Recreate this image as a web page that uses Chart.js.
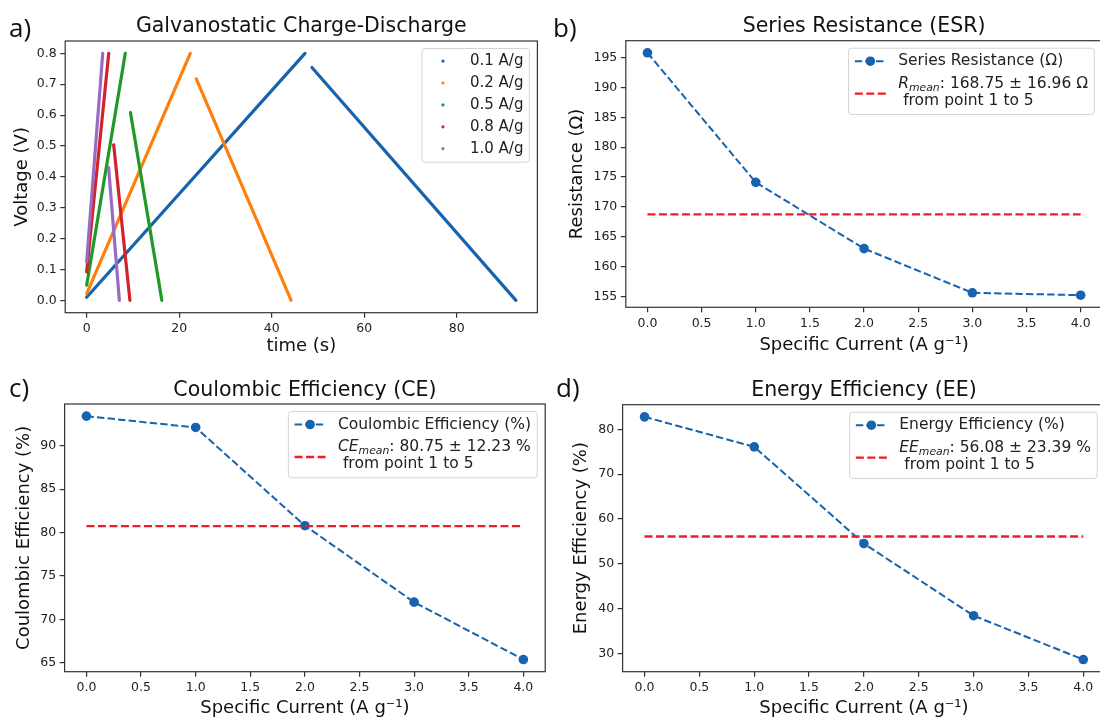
<!DOCTYPE html>
<html>
<head>
<meta charset="utf-8">
<script src="https://cdn.jsdelivr.net/npm/chart.js@4.4.0/dist/chart.umd.min.js"></script>
<style>
  html, body { margin: 0; padding: 0; background: #fff; overflow: hidden; width: 1100px; height: 719px; }
  canvas { position: absolute; }
  .tag { position: absolute; font-family: "Open Sans", sans-serif; font-size: 26px; line-height: 1; color: #111; }
</style>
</head>
<body>
<canvas id="gcd" style="left:0;top:0" width="550" height="360"></canvas>
<canvas id="esr" style="left:550px;top:0" width="560" height="360"></canvas>
<canvas id="ce" style="left:0;top:360px" width="550" height="359"></canvas>
<canvas id="ee" style="left:550px;top:360px" width="560" height="359"></canvas>
<div class="tag" style="left:9px;top:14px">a)</div>
<div class="tag" style="left:553px;top:14px">b)</div>
<div class="tag" style="left:9px;top:374px">c)</div>
<div class="tag" style="left:556px;top:374px">d)</div>
<script>
// a) galvanostatic charge-discharge: one charge and one discharge segment per current
const rateLabels = ['0.1 A/g', '0.2 A/g', '0.5 A/g', '0.8 A/g', '1.0 A/g'];
const chargeStartV = [0.010, 0.022, 0.049, 0.092, 0.125];
const chargeEndT = [47.2, 22.4, 8.35, 4.77, 3.47];
const peakV = 0.8;
const dischargeStartT = [48.7, 23.7, 9.47, 5.84, 4.74];
const dischargeStartV = [0.754, 0.717, 0.608, 0.504, 0.430];
const dischargeEndT = [92.8, 44.2, 16.25, 9.35, 7.07];
const timeTicks = [0, 20, 40, 60, 80];
const voltageTicks = [0, 0.1, 0.2, 0.3, 0.4, 0.5, 0.6, 0.7, 0.8];

// b), c), d) vs specific current
const currents = [0, 1, 2, 3, 4];
const currentTicks = [0, 0.5, 1, 1.5, 2, 2.5, 3, 3.5, 4];
const esr = [195.8, 174.1, 163.0, 155.6, 155.2];
const esrMean = 168.75, esrStd = 16.96;
const esrTicks = [155, 160, 165, 170, 175, 180, 185, 190, 195];
const ce = [93.4, 92.1, 80.8, 72.0, 65.4];
const ceMean = 80.75, ceStd = 12.23;
const ceTicks = [65, 70, 75, 80, 85, 90];
const ee = [82.8, 76.1, 54.5, 38.4, 28.6];
const eeMean = 56.08, eeStd = 23.39;
const eeTicks = [30, 40, 50, 60, 70, 80];

const FONT = '"DejaVu Sans", sans-serif';
const BLUE = '#1763ad';
const RED = '#ee1d23';
const rateColors = [BLUE, '#ff7f0e', '#209a26', '#d2232a', '#9a6ac4'];

// matplotlib autoscale: 5% margin on each side
function lim(values) {
  const lo = Math.min(...values), hi = Math.max(...values);
  const m = (hi - lo) * 0.05;
  return [lo - m, hi + m];
}

function runFont(r, fs) {
  return (r.it ? 'italic ' : '') + (r.sub ? fs * 0.7 : fs) + 'px ' + FONT;
}

function lineWidth(ctx, runs, fs) {
  let w = 0;
  runs.forEach(r => { ctx.font = runFont(r, fs); w += ctx.measureText(r.t).width; });
  return w;
}

// full frame around the axes (spines)
const frame = {
  id: 'frame',
  afterDatasetsDraw(chart) {
    const { ctx, chartArea: a } = chart;
    ctx.save();
    ctx.strokeStyle = '#333';
    ctx.lineWidth = 1.2;
    ctx.strokeRect(a.left, a.top, a.right - a.left, a.bottom - a.top);
    ctx.restore();
  }
};

// legend box in the upper right corner, matplotlib style
const boxLegend = {
  id: 'boxLegend',
  afterDraw(chart, args, o) {
    if (!o.items) return;
    const { ctx, chartArea: ca } = chart;
    const fs = o.fontSize;
    const pad = 0.4 * fs, hl = 2 * fs, hp = 0.8 * fs;
    ctx.save();
    let tw = 0;
    o.items.forEach(it => it.lines.forEach(l => { tw = Math.max(tw, lineWidth(ctx, l, fs)); }));
    const w = pad + hl + hp + tw + pad;
    const top = ca.top + 7.5;
    const left = ca.right - 8 - w;
    let y = top + 0.84 * fs;
    const rows = o.items.map(it => {
      const ys = it.lines.map((l, i) => y + i * 1.08 * fs);
      y = ys[ys.length - 1] + 1.46 * fs;
      return ys;
    });
    const lastRow = rows[rows.length - 1];
    const bottom = lastRow[lastRow.length - 1] + 0.9 * fs;

    ctx.beginPath();
    ctx.roundRect(left, top, w, bottom - top, 3);
    ctx.fillStyle = 'rgba(255,255,255,0.85)';
    ctx.fill();
    ctx.strokeStyle = '#d4d4d4';
    ctx.lineWidth = 1;
    ctx.stroke();

    o.items.forEach((it, k) => {
      const ys = rows[k];
      const hy = (ys[0] + ys[ys.length - 1]) / 2 + (ys.length > 1 ? 1.5 : 0);
      const hx = left + pad;
      ctx.fillStyle = it.color;
      ctx.strokeStyle = it.color;
      if (it.handle === 'dot') {
        ctx.beginPath();
        ctx.arc(hx + hl / 2, hy, 1.6, 0, Math.PI * 2);
        ctx.fill();
      } else {
        ctx.lineWidth = it.handle === 'dash' ? 2.3 : 2;
        ctx.setLineDash(it.handle === 'dash' ? [8, 3.5] : [7.4, 3.2]);
        ctx.beginPath();
        ctx.moveTo(hx, hy);
        ctx.lineTo(hx + hl, hy);
        ctx.stroke();
        ctx.setLineDash([]);
        if (it.handle === 'lineMarker') {
          ctx.beginPath();
          ctx.arc(hx + hl / 2, hy, 4.8, 0, Math.PI * 2);
          ctx.fill();
        }
      }
      ctx.textBaseline = 'middle';
      ctx.textAlign = 'left';
      ctx.fillStyle = '#222';
      it.lines.forEach((l, i) => {
        let x = hx + hl + hp;
        l.forEach(r => {
          ctx.font = runFont(r, fs);
          ctx.fillText(r.t, x, ys[i] + (r.sub ? 0.28 * fs : 0));
          x += ctx.measureText(r.t).width;
        });
      });
    });
    ctx.restore();
  }
};

Chart.register(frame, boxLegend);

function scaleCfg(o) {
  return {
    type: 'linear',
    min: o.range[0],
    max: o.range[1],
    afterBuildTicks: s => { s.ticks = o.ticks.map(v => ({ value: v })); },
    afterFit: s => { if (o.axis === 'x') s.height = o.size; else s.width = o.size; },
    grid: { display: true, drawOnChartArea: false, drawTicks: true, tickLength: 5, color: '#333', lineWidth: 1.2 },
    border: { display: false },
    ticks: { padding: 3.5, color: '#222', autoSkip: false, maxRotation: 0, font: { family: FONT, size: 12.5 }, callback: o.fmt },
    title: {
      display: true, text: o.title, color: '#111',
      font: { family: FONT, size: 18 },
      padding: o.axis === 'x' ? { top: 0, bottom: o.tpad } : { top: o.tpad, bottom: 0 }
    }
  };
}

function panel(id, p) {
  new Chart(document.getElementById(id), {
    type: 'line',
    data: { datasets: p.datasets },
    options: {
      responsive: false,
      animation: false,
      devicePixelRatio: 1,
      layout: { padding: { left: 0, top: 0, bottom: 0, right: p.right } },
      scales: { x: scaleCfg(p.x), y: scaleCfg(p.y) },
      plugins: {
        legend: { display: false },
        tooltip: { enabled: false },
        title: {
          display: true, text: p.title, fullSize: false, color: '#111',
          font: { family: FONT, size: 20.5, weight: 'normal' },
          padding: p.titlePad
        },
        boxLegend: p.legend
      }
    }
  });
}

function currentSeries(values, mean) {
  return [
    {
      data: currents.map((x, i) => ({ x, y: values[i] })),
      borderColor: BLUE, borderWidth: 2, borderDash: [7.4, 3.2],
      pointRadius: 4.8, pointBackgroundColor: BLUE, pointBorderWidth: 0, order: 1
    },
    {
      data: [{ x: currents[0], y: mean }, { x: currents[currents.length - 1], y: mean }],
      borderColor: RED, borderWidth: 2.3, borderDash: [8, 3.5], pointRadius: 0, order: 0
    }
  ];
}

function meanLabel(sym, mean, std, unit) {
  return [
    [{ t: sym, it: true }, { t: 'mean', it: true, sub: true }, { t: ': ' + mean.toFixed(2) + ' ± ' + std.toFixed(2) + ' ' + unit }],
    [{ t: ' from point 1 to 5' }]
  ];
}

const fmt1 = v => v.toFixed(1);
const fmt0 = v => String(v);
const currentRange = lim(currents);

// a)
const gcdSets = [];
rateLabels.forEach((lab, i) => {
  const line = { borderColor: rateColors[i], borderWidth: 3.2, borderCapStyle: 'round', pointRadius: 0, order: -i };
  gcdSets.push(Object.assign({ data: [{ x: 0, y: chargeStartV[i] }, { x: chargeEndT[i], y: peakV }] }, line));
  gcdSets.push(Object.assign({ data: [{ x: dischargeStartT[i], y: dischargeStartV[i] }, { x: dischargeEndT[i], y: 0 }] }, line));
});
panel('gcd', {
  title: 'Galvanostatic Charge-Discharge',
  titlePad: { top: 14.7, bottom: 1.7 },
  right: 12.6,
  datasets: gcdSets,
  x: { axis: 'x', range: lim([0, ...dischargeEndT]), ticks: timeTicks, fmt: fmt0, title: 'time (s)', size: 47.3, tpad: 2.5 },
  y: { axis: 'y', range: lim([0, peakV]), ticks: voltageTicks, fmt: fmt1, title: 'Voltage (V)', size: 65.2, tpad: 11.1 },
  legend: { fontSize: 15, items: rateLabels.map((lab, i) => ({ handle: 'dot', color: rateColors[i], lines: [[{ t: lab }]] })) }
});

// b)
panel('esr', {
  title: 'Series Resistance (ESR)',
  titlePad: { top: 14.7, bottom: 1.4 },
  right: 7.7,
  datasets: currentSeries(esr, esrMean),
  x: { axis: 'x', range: currentRange, ticks: currentTicks, fmt: fmt1, title: 'Specific Current (A g⁻¹)', size: 52.7, tpad: 4.2 },
  y: { axis: 'y', range: lim(esr), ticks: esrTicks, fmt: fmt0, title: 'Resistance (Ω)', size: 75.8, tpad: 16.4 },
  legend: { fontSize: 15.5, items: [
    { handle: 'lineMarker', color: BLUE, lines: [[{ t: 'Series Resistance (Ω)' }]] },
    { handle: 'dash', color: RED, lines: meanLabel('R', esrMean, esrStd, 'Ω') }
  ] }
});

// c)
panel('ce', {
  title: 'Coulombic Efficiency (CE)',
  titlePad: { top: 18.7, bottom: 0.7 },
  right: 0.8,
  datasets: currentSeries(ce, ceMean),
  x: { axis: 'x', range: currentRange, ticks: currentTicks, fmt: fmt1, title: 'Specific Current (A g⁻¹)', size: 47.3, tpad: 0 },
  y: { axis: 'y', range: lim(ce), ticks: ceTicks, fmt: fmt0, title: 'Coulombic Efficiency (%)', size: 64.6, tpad: 13.7 },
  legend: { fontSize: 15.5, items: [
    { handle: 'lineMarker', color: BLUE, lines: [[{ t: 'Coulombic Efficiency (%)' }]] },
    { handle: 'dash', color: RED, lines: meanLabel('CE', ceMean, ceStd, '%') }
  ] }
});

// d)
panel('ee', {
  title: 'Energy Efficiency (EE)',
  titlePad: { top: 18.7, bottom: 1.4 },
  right: 3.1,
  datasets: currentSeries(ee, eeMean),
  x: { axis: 'x', range: currentRange, ticks: currentTicks, fmt: fmt1, title: 'Specific Current (A g⁻¹)', size: 47.3, tpad: 0 },
  y: { axis: 'y', range: lim(ee), ticks: eeTicks, fmt: fmt0, title: 'Energy Efficiency (%)', size: 72.6, tpad: 20.8 },
  legend: { fontSize: 15.5, items: [
    { handle: 'lineMarker', color: BLUE, lines: [[{ t: 'Energy Efficiency (%)' }]] },
    { handle: 'dash', color: RED, lines: meanLabel('EE', eeMean, eeStd, '%') }
  ] }
});
</script>
</body>
</html>
